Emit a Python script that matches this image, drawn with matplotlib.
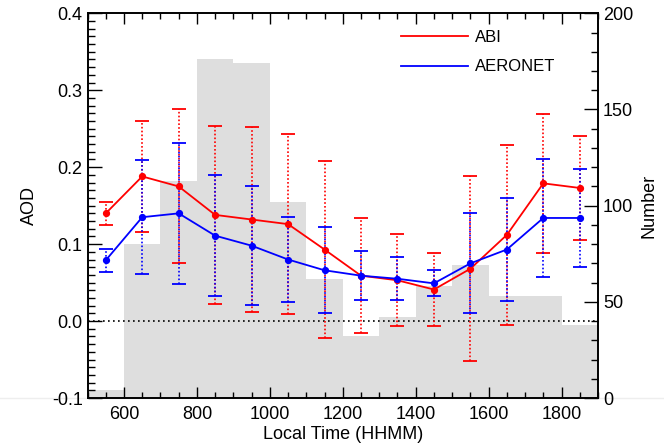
import numpy as np
import matplotlib
matplotlib.use('Agg')
import matplotlib.pyplot as plt
from matplotlib.lines import Line2D
from matplotlib.ticker import MultipleLocator, FormatStrFormatter

plt.rcParams['font.family'] = ['Liberation Sans', 'DejaVu Sans']

# ---- data ----
times = [550, 650, 750, 850, 950, 1050, 1150, 1250, 1350, 1450, 1550, 1650, 1750, 1850]

abi_aod = [0.140, 0.188, 0.175, 0.138, 0.132, 0.126, 0.093, 0.059,
           0.053, 0.041, 0.068, 0.112, 0.179, 0.173]
abi_std = [0.015, 0.072, 0.100, 0.116, 0.120, 0.117, 0.115, 0.075,
           0.060, 0.047, 0.120, 0.117, 0.090, 0.068]

aeronet_aod = [0.079, 0.135, 0.140, 0.111, 0.098, 0.080, 0.066, 0.059,
               0.055, 0.049, 0.075, 0.093, 0.134, 0.134]
aeronet_std = [0.015, 0.074, 0.092, 0.079, 0.077, 0.055, 0.056, 0.032,
               0.028, 0.017, 0.065, 0.067, 0.077, 0.064]

# number of matchups in each hour bin
bin_count = [4, 80, 113, 176, 174, 102, 62, 32, 42, 58, 69, 53, 53, 38]

# ----
fig = plt.figure(figsize=(6.64, 4.44), dpi=100)
ax = fig.add_axes([0.1318, 0.1036, 0.7688, 0.8664])
ax2 = ax.twinx()

# histogram on the right axis, behind the lines
ax2.bar(times, bin_count, width=100, color='#dedede', edgecolor='none', zorder=1)
ax2.set_ylim(0, 200)
ax2.yaxis.set_major_locator(MultipleLocator(50))
ax2.yaxis.set_minor_locator(MultipleLocator(10))
ax2.set_ylabel('Number', fontsize=13, labelpad=5)

ax.set_zorder(ax2.get_zorder() + 1)
ax.patch.set_visible(False)

ax.axhline(0, color='black', linestyle=(0, (1, 2)), linewidth=1.2, zorder=2)

dot = (0, (1, 1.3))
for aod, std, col in [(abi_aod, abi_std, 'red'), (aeronet_aod, aeronet_std, 'blue')]:
    eb = ax.errorbar(times, aod, yerr=std, fmt='none', ecolor=col, elinewidth=1.2,
                     capsize=5, capthick=1.3, zorder=3)
    eb[2][0].set_linestyle(dot)
ax.plot(times, abi_aod, color='red', linewidth=1.3, marker='o', markersize=4.2, zorder=4)
ax.plot(times, aeronet_aod, color='blue', linewidth=1.3, marker='o', markersize=4.2, zorder=4)

ax.set_xlim(500, 1900)
ax.set_ylim(-0.1, 0.4)
ax.xaxis.set_major_locator(MultipleLocator(200))
ax.xaxis.set_minor_locator(MultipleLocator(50))
ax.yaxis.set_major_locator(MultipleLocator(0.1))
ax.yaxis.set_minor_locator(MultipleLocator(0.01))
ax.yaxis.set_major_formatter(FormatStrFormatter('%.1f'))

ax.tick_params(axis='x', which='both', direction='in', top=True, bottom=True, labelsize=13)
ax.tick_params(axis='x', which='major', length=8, width=1, pad=6)
ax.tick_params(axis='x', which='minor', length=4, width=1)
ax.tick_params(axis='y', which='both', direction='in', left=True, right=False, labelsize=13)
ax.tick_params(axis='y', which='major', length=10, width=1)
ax.tick_params(axis='y', which='minor', length=5, width=1)
ax2.tick_params(axis='y', which='both', direction='in', labelsize=13)
ax2.tick_params(axis='y', which='major', length=10, width=1)
ax2.tick_params(axis='y', which='minor', length=5, width=1)

ax.set_xlabel('Local Time (HHMM)', fontsize=13, labelpad=2)
ax.set_ylabel('AOD', fontsize=13, labelpad=10)

for a in (ax, ax2):
    for s in a.spines.values():
        s.set_linewidth(1.2)

handles = [Line2D([], [], color='red', linewidth=1.3),
           Line2D([], [], color='blue', linewidth=1.3)]
ax.legend(handles, ['ABI', 'AERONET'], loc='upper left', bbox_to_anchor=(0.585, 0.995),
          frameon=False, fontsize=12, handlelength=4.0, handletextpad=0.45,
          labelspacing=0.85)

# faint baseline across the figure
fig.add_artist(Line2D([0, 1], [0.1025, 0.1025], transform=fig.transFigure,
                      color='#eeeeee', linewidth=1, zorder=0))

fig.savefig('out.png', dpi=100)
